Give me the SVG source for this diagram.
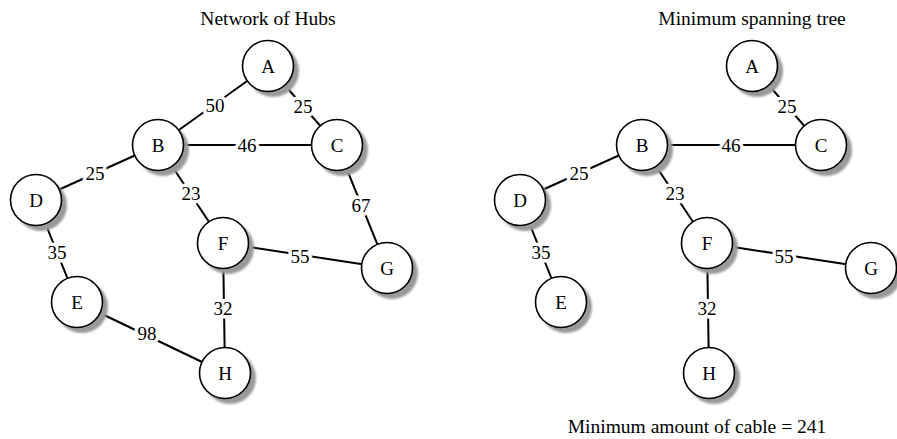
<svg xmlns="http://www.w3.org/2000/svg" width="897" height="439" viewBox="0 0 897 439">
  <style>
    text { font-family: "Liberation Serif", "Times New Roman", serif; fill: #000; }
    .title { font-size: 19.5px; text-anchor: middle; }
    .lbl { font-size: 19px; text-anchor: middle; }
    .wt { font-size: 19px; text-anchor: middle; stroke: #fff; stroke-width: 7px; paint-order: stroke; stroke-linejoin: round; }
    .edge { stroke: #000; stroke-width: 2; fill: none; }
    .hub { fill: #fff; stroke: #000; stroke-width: 1.6; }
    .shadow { fill: #999; }
  </style>
  <defs>
    <filter id="soft" x="-30%" y="-30%" width="160%" height="160%">
      <feGaussianBlur stdDeviation="1"/>
    </filter>
    <g id="disc">
      <circle class="shadow" cx="5" cy="5" r="26" filter="url(#soft)"/>
      <circle class="hub" cx="0" cy="0" r="25.5"/>
    </g>
  </defs>

  <rect width="897" height="439" fill="#fff"/>

  <text class="title" x="268" y="25">Network of Hubs</text>
  <text class="title" x="752" y="25">Minimum spanning tree</text>
  <text class="title" x="697" y="433">Minimum amount of cable = 241</text>

  <!-- connectors: full network -->
  <g id="network-edges">
    <line class="edge" x1="268" y1="66" x2="158" y2="145"/>
    <line class="edge" x1="268" y1="66" x2="337" y2="145"/>
    <line class="edge" x1="158" y1="145" x2="337" y2="145"/>
    <line class="edge" x1="158" y1="145" x2="36" y2="200"/>
    <line class="edge" x1="158" y1="145" x2="223" y2="243"/>
    <line class="edge" x1="337" y1="145" x2="387" y2="268"/>
    <line class="edge" x1="36" y1="200" x2="77" y2="302"/>
    <line class="edge" x1="223" y1="243" x2="387" y2="268"/>
    <line class="edge" x1="223" y1="243" x2="225" y2="373"/>
    <line class="edge" x1="77" y1="302" x2="225" y2="373"/>
    <text class="wt" x="215" y="111.5">50</text>
    <text class="wt" x="303" y="112.5">25</text>
    <text class="wt" x="247" y="151.5">46</text>
    <text class="wt" x="95" y="179.5">25</text>
    <text class="wt" x="191" y="199.5">23</text>
    <text class="wt" x="361" y="211.5">67</text>
    <text class="wt" x="57" y="258.5">35</text>
    <text class="wt" x="300" y="262.5">55</text>
    <text class="wt" x="223" y="314.5">32</text>
    <text class="wt" x="147" y="339.5">98</text>
  </g>

  <!-- connectors: spanning tree -->
  <g id="tree-edges">
    <line class="edge" x1="752" y1="66" x2="821" y2="145"/>
    <line class="edge" x1="642" y1="145" x2="821" y2="145"/>
    <line class="edge" x1="642" y1="145" x2="520" y2="200"/>
    <line class="edge" x1="642" y1="145" x2="707" y2="243"/>
    <line class="edge" x1="520" y1="200" x2="561" y2="302"/>
    <line class="edge" x1="707" y1="243" x2="871" y2="268"/>
    <line class="edge" x1="707" y1="243" x2="709" y2="373"/>
    <text class="wt" x="787" y="112.5">25</text>
    <text class="wt" x="731" y="151.5">46</text>
    <text class="wt" x="579" y="179.5">25</text>
    <text class="wt" x="675" y="199.5">23</text>
    <text class="wt" x="541" y="258.5">35</text>
    <text class="wt" x="784" y="262.5">55</text>
    <text class="wt" x="707" y="314.5">32</text>
  </g>

  <!-- hubs: full network -->
  <g id="net-A" transform="translate(268,66)"><use href="#disc"/><text class="lbl" y="6.5">A</text></g>
  <g id="net-B" transform="translate(158,145)"><use href="#disc"/><text class="lbl" y="6.5">B</text></g>
  <g id="net-C" transform="translate(337,145)"><use href="#disc"/><text class="lbl" y="6.5">C</text></g>
  <g id="net-D" transform="translate(36,200)"><use href="#disc"/><text class="lbl" y="6.5">D</text></g>
  <g id="net-E" transform="translate(77,302)"><use href="#disc"/><text class="lbl" y="6.5">E</text></g>
  <g id="net-F" transform="translate(223,243)"><use href="#disc"/><text class="lbl" y="6.5">F</text></g>
  <g id="net-G" transform="translate(387,268)"><use href="#disc"/><text class="lbl" y="6.5">G</text></g>
  <g id="net-H" transform="translate(225,373)"><use href="#disc"/><text class="lbl" y="6.5">H</text></g>

  <!-- hubs: spanning tree -->
  <g id="mst-A" transform="translate(752,66)"><use href="#disc"/><text class="lbl" y="6.5">A</text></g>
  <g id="mst-B" transform="translate(642,145)"><use href="#disc"/><text class="lbl" y="6.5">B</text></g>
  <g id="mst-C" transform="translate(821,145)"><use href="#disc"/><text class="lbl" y="6.5">C</text></g>
  <g id="mst-D" transform="translate(520,200)"><use href="#disc"/><text class="lbl" y="6.5">D</text></g>
  <g id="mst-E" transform="translate(561,302)"><use href="#disc"/><text class="lbl" y="6.5">E</text></g>
  <g id="mst-F" transform="translate(707,243)"><use href="#disc"/><text class="lbl" y="6.5">F</text></g>
  <g id="mst-G" transform="translate(871,268)"><use href="#disc"/><text class="lbl" y="6.5">G</text></g>
  <g id="mst-H" transform="translate(709,373)"><use href="#disc"/><text class="lbl" y="6.5">H</text></g>
</svg>
